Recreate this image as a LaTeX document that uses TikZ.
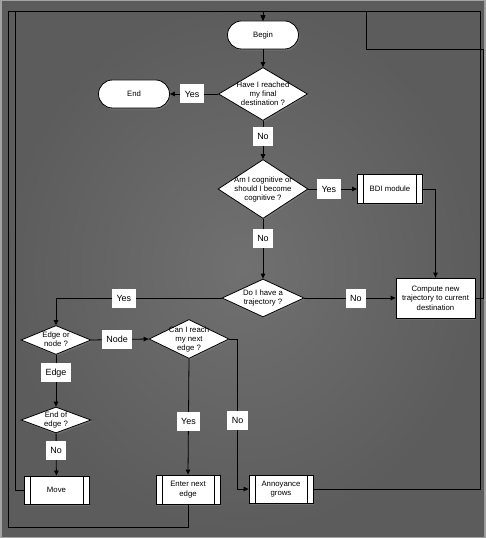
\documentclass[tikz,border=0pt]{standalone}
\usepackage{fontspec}
\setmainfont{Liberation Sans}
\usetikzlibrary{shapes.geometric,arrows.meta,shadows,positioning}

\newcommand{\qtext}[1]{\smash{\makebox[0pt]{\raisebox{-2.5bp}{\begin{tabular}{@{}c@{}}#1\end{tabular}}}}}

\begin{document}
\begin{tikzpicture}[
      x=1bp, y=-1bp,
      line width=0.8bp,
      every node/.style={align=center},
      shadowed/.style={drop shadow={shadow xshift=1.2bp, shadow yshift=-1.6bp, opacity=0.55}},
      term/.style={draw, fill=white, shadowed, rounded corners=14bp, minimum width=71bp, minimum height=28bp,
        font=\fontsize{7.8}{9}\selectfont},
      decision/.style={diamond, draw, fill=white, shadowed, inner sep=0pt,
        font=\fontsize{7.8}{9}\selectfont},
      process/.style={draw, fill=white, shadowed, minimum width=79bp, minimum height=40bp, inner xsep=2bp,
        font=\fontsize{7.8}{9.5}\selectfont},
      subproc/.style={draw, fill=white, shadowed, minimum width=65bp, minimum height=29bp,
        font=\fontsize{7.8}{9.5}\selectfont,
        path picture={
          \draw ([xshift=6bp]path picture bounding box.north west) -- ([xshift=6bp]path picture bounding box.south west);
          \draw ([xshift=-6bp]path picture bounding box.north east) -- ([xshift=-6bp]path picture bounding box.south east);
        }},
      answer/.style={fill=white, inner xsep=4.5bp, inner ysep=0pt, minimum height=19bp,
        font=\fontsize{9}{10}\selectfont},
      flow/.style={-{Triangle[length=5bp,width=4.5bp]}}
    ]

% Background
      \useasboundingbox (0,0) rectangle (486,538);
      \fill[black!36] (0,0) rectangle (486,538);
      \shade[inner color=black!56, outer color=black!64] (2,2) rectangle (484,536);

% Nodes
      \node[term] (begin) at (263,35) {Begin};
      \node[decision, minimum width=89bp, minimum height=53bp] (reached) at (263,94)
        {\qtext{Have I reached\\my final\\destination ?}};
      \node[term] (finish) at (134,94) {End};
      \node[decision, minimum width=90bp, minimum height=59bp] (cognitive) at (263,189)
        {\qtext{Am I cognitive or\\should I become\\cognitive ?}};
      \node[subproc] (bdi) at (390,189) {BDI module};
      \node[decision, minimum width=82bp, minimum height=38bp] (traj) at (263,298)
        {\qtext{Do I have a\\trajectory ?}};
      \node[process] (compute) at (435.5,298) {Compute new\\trajectory to current\\destination};
      \node[decision, minimum width=70bp, minimum height=29bp] (edgenode) at (56,340)
        {\qtext{Edge or\\node ?}};
      \node[decision, minimum width=80bp, minimum height=39bp] (canreach) at (189,339)
        {\qtext{Can I reach\\my next\\edge ?}};
      \node[decision, minimum width=70bp, minimum height=26bp] (endedge) at (56,420)
        {\qtext{End of\\edge ?}};
      \node[subproc, minimum height=28bp] (move) at (56.5,490) {Move};
      \node[subproc, minimum width=64bp] (enter) at (188,489.5) {Enter next\\edge};
      \node[subproc, minimum width=64bp, minimum height=28bp] (annoy) at (281,489) {Annoyance\\grows};

      \coordinate (loopmove) at (15,11);
      \coordinate (loopleft) at (8,11);
      \coordinate (loopbottom) at (8,527);
      \coordinate (loopright) at (480,11);
      \coordinate (loopcompute) at (483,49);
      \coordinate (loopbdi) at (366,11);

% Connections
      \draw[flow] (begin) -- (reached);
      \draw[flow] (reached) -- node[answer, pos=0.54] {Yes} (finish);
      \draw[flow] (reached) -- node[answer, pos=0.4] {No} (cognitive);
      \draw[flow] (cognitive) -- node[answer, pos=0.42] {Yes} (bdi);
      \draw[flow] (bdi.east) -| (compute.north);
      \draw[flow] (cognitive) -- node[answer, pos=0.33] {No} (traj);
      \draw[flow] (traj) -- node[answer, pos=0.565] {No} (compute);
      \draw[flow] (traj.west) -| node[answer, pos=0.295] {Yes} (edgenode.north);
      \draw[flow] (edgenode.east) -- node[answer, pos=0.45] {Node} (canreach.west);
      \draw[flow] (edgenode) -- node[answer, pos=0.35] {Edge} (endedge);
      \draw[flow] (endedge) -- node[answer, pos=0.4] {No} (move);
      \draw[flow] (canreach.south) -- node[answer, pos=0.54] {Yes} (enter.north);
      \draw[flow] (canreach.east) -| node[answer, pos=0.77] {No} ([xshift=-11bp]annoy.west) -- (annoy.west);

% Loops back to the start
      \draw[flow] (move.west) -| (loopmove) -| (begin.north);
      \draw[flow] (enter.south) |- (loopbottom) -- (loopleft) -| (begin.north);
      \draw[flow] (annoy.east) -| (loopright) -| (begin.north);
      \draw[flow] (compute.east) -| (loopcompute) -| (loopbdi) -| (begin.north);

    \end{tikzpicture}
\end{document}
